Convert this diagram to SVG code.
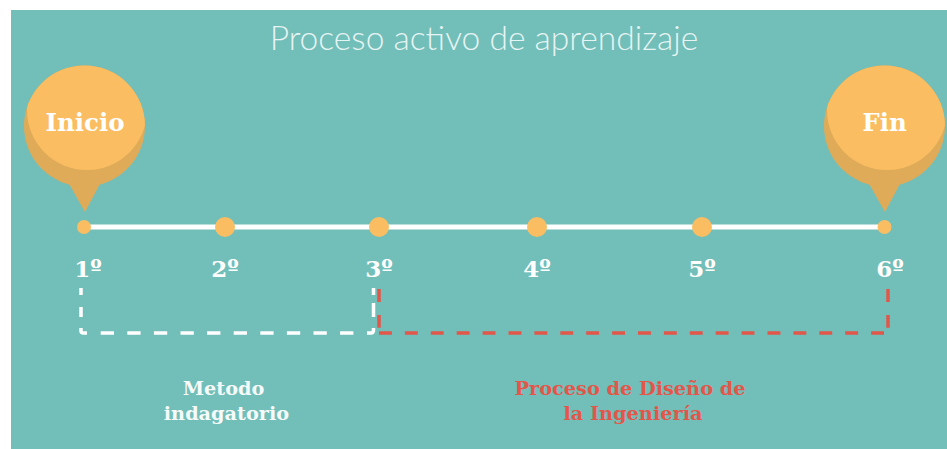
<svg xmlns="http://www.w3.org/2000/svg" width="947" height="449" viewBox="0 0 947 449">
<defs>
<clipPath id="c1"><circle cx="84.500" cy="126" r="60.500"/></clipPath>
<clipPath id="c2"><circle cx="884.500" cy="126" r="60.500"/></clipPath>
</defs>
<style>
.s{font-family:"DejaVu Serif","Liberation Serif",serif;font-weight:700;text-anchor:middle}
.w{fill:#fff}
.r{fill:#e2574a}
.n{font-size:23px}
.l{font-size:19.300px}
.p{font-size:24.500px}
.o{fill:#fabd62}
.d{fill:#dfab58}
.dw{fill:none;stroke:#fff;stroke-width:3.500}
.dr{fill:none;stroke:#e2574a;stroke-width:3.500;stroke-dasharray:12.900 13}
</style>
<rect x="11" y="10" width="936" height="439" fill="#72beb9"/>
<text x="484" y="50" font-family="Lato,'Open Sans',sans-serif" font-weight="300" font-size="33.600" fill="#e6f4f3" text-anchor="middle">Proceso activo de aprendizaje</text>
<g id="connectors">
<line x1="84" y1="227" x2="884" y2="227" stroke="#fff" stroke-width="5"/>
<path class="dw" d="M81 288V295M81 307V317M81 328V331Q81 333 83.500 333H87M367 333H371Q373.500 333 373.500 330V328M373.500 303V317M373.500 288V295"/>
<path class="dw" stroke-dasharray="13.300 13.300" d="M100.700 333H354"/>
<path class="dr" d="M379 289V328M888 289V328"/>
<path class="dr" d="M379 333H884"/>
</g>
<g id="inicio"><path class="d" d="M68 182L85 212L101 182Z"/><circle class="d" cx="84.500" cy="126" r="60.500"/><circle class="o" cx="87" cy="110" r="60" clip-path="url(#c1)"/><text class="s w p" x="85" y="131">Inicio</text></g>
<g id="fin"><path class="d" d="M868 182L885 212L901 182Z"/><circle class="d" cx="884.500" cy="126" r="60.500"/><circle class="o" cx="887" cy="110" r="60" clip-path="url(#c2)"/><text class="s w p" x="884.500" y="131">Fin</text></g>
<g id="p1"><circle class="o" cx="84" cy="227" r="7"/><text class="s w n" x="88" y="277">1º</text></g>
<g id="p2"><circle class="o" cx="225" cy="227" r="10"/><text class="s w n" x="225" y="277">2º</text></g>
<g id="p3"><circle class="o" cx="379" cy="227" r="10"/><text class="s w n" x="379" y="277">3º</text></g>
<g id="p4"><circle class="o" cx="537" cy="227" r="10"/><text class="s w n" x="537" y="277">4º</text></g>
<g id="p5"><circle class="o" cx="702" cy="227" r="10"/><text class="s w n" x="702" y="277">5º</text></g>
<g id="p6"><circle class="o" cx="884.500" cy="227" r="7"/><text class="s w n" x="890" y="277">6º</text></g>
<g id="metodo" opacity=".93"><text class="s w l" x="223.500" y="395">Metodo</text><text class="s w l" x="226.500" y="420">indagatorio</text></g>
<g id="diseno"><text class="s r l" x="630" y="395">Proceso de Diseño de</text><text class="s r l" x="633" y="420">la Ingeniería</text></g>
</svg>
